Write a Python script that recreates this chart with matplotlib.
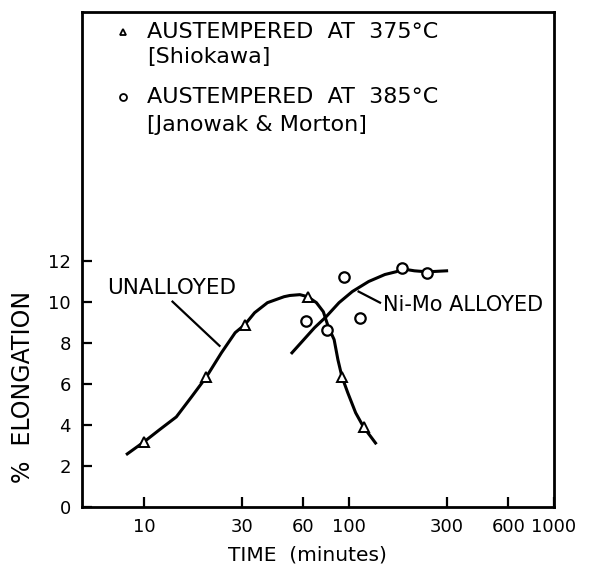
import matplotlib

matplotlib.use("Agg")
import matplotlib.pyplot as plt
from matplotlib.ticker import FixedLocator, NullLocator

# measured points, triangles = unalloyed (Shiokawa, 375 C)
tri_t = [10, 20.2, 31.1, 63, 92.6, 118]
tri_el = [3.17, 6.34, 8.88, 10.24, 6.34, 3.9]

# circles = Ni-Mo alloyed (Janowak & Morton, 385 C)
circ_t = [62, 78.5, 94.6, 113, 181, 241]
circ_el = [9.07, 8.63, 11.2, 9.22, 11.66, 11.41]

# hand-drawn trend curves
unal_t = [8.3, 10, 11.9, 14.4, 17.1, 20.2, 23.9, 27.9, 31.1, 34.7, 40.1, 48.3, 51.6,
          57.7, 63, 69.5, 75.1, 79.4, 84.8, 88.5, 92.6, 98.9, 108, 118, 135]
unal_el = [2.59, 3.17, 3.76, 4.39, 5.37, 6.34, 7.51, 8.49, 8.88, 9.46, 9.95, 10.24, 10.3,
           10.34, 10.24, 9.95, 9.51, 8.78, 8.15, 7.17, 6.34, 5.56, 4.59, 3.9, 3.12]
nimo_t = [52.8, 60.3, 68, 77.6, 89.6, 104, 125, 150, 171, 181, 209, 241, 300]
nimo_el = [7.51, 8.15, 8.73, 9.27, 9.95, 10.49, 10.98, 11.32, 11.46, 11.6, 11.5, 11.45,
           11.5]

xticks = [10, 30, 60, 100, 300, 600, 1000]
yticks = [0, 2, 4, 6, 8, 10, 12]

plt.rcParams.update({"font.family": "DejaVu Sans"})

fig = plt.figure(figsize=(5.91, 5.66), dpi=100)
ax = fig.add_axes([0.139, 0.104, 0.798, 0.875])

ax.plot(unal_t, unal_el, "-", color="black", lw=2.2, zorder=2)
ax.plot(nimo_t, nimo_el, "-", color="black", lw=2.2, zorder=2)
ax.plot(tri_t, tri_el, "^", ms=6.5, mfc="white", mec="black", mew=1.4, ls="none", zorder=3)
ax.plot(circ_t, circ_el, "o", ms=7.5, mfc="white", mec="black", mew=1.6, ls="none", zorder=3)

ax.set_xscale("log")
ax.set_xlim(5, 1000)
ax.set_ylim(0, 24.1)
ax.xaxis.set_major_locator(FixedLocator(xticks))
ax.xaxis.set_minor_locator(NullLocator())
ax.set_xticklabels([str(v) for v in xticks])
ax.set_yticks(yticks)
ax.tick_params(direction="in", length=7, width=1.6, labelsize=13, pad=8)
for s in ax.spines.values():
    s.set_linewidth(2)

ax.set_xlabel("TIME  (minutes)", fontsize=14.5)
ax.set_ylabel("%  ELONGATION", fontsize=17)
ax.xaxis.set_label_coords(0.477, -0.078)
ax.yaxis.set_label_coords(-0.1, 0.242)

# curve labels with leader lines
ax.text(6.65, 10.68, "UNALLOYED", fontsize=15.5, va="center", ha="left")
ax.plot([13.8, 23.4], [10.0, 7.85], color="black", lw=1.6)
ax.text(147, 9.85, "Ni-Mo ALLOYED", fontsize=15, va="center", ha="left")
ax.plot([111.6, 142], [10.49, 9.95], color="black", lw=1.6)

# legend, drawn as text
ax.plot([7.9], [23.1], "^", ms=5, mfc="white", mec="black", mew=1.3)
ax.text(10.4, 23.1, "AUSTEMPERED  AT  375°C", fontsize=16, va="center")
ax.text(10.4, 21.9, "[Shiokawa]", fontsize=16, va="center")
ax.plot([7.9], [19.95], "o", ms=5, mfc="white", mec="black", mew=1.3)
ax.text(10.4, 19.95, "AUSTEMPERED  AT  385°C", fontsize=16, va="center")
ax.text(10.4, 18.6, "[Janowak & Morton]", fontsize=16, va="center")

fig.savefig("out.png", dpi=100)
